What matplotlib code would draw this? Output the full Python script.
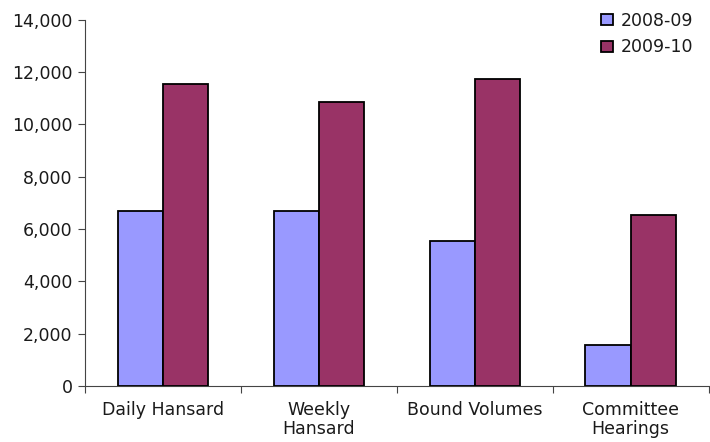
import numpy as np
import matplotlib.pyplot as plt
from matplotlib.ticker import FuncFormatter

categories = ["Daily Hansard", "Weekly\nHansard", "Bound Volumes", "Committee\nHearings"]
series_names = ["2008-09", "2009-10"]
values_0809 = [6700, 6700, 5550, 1570]
values_0910 = [11550, 10850, 11740, 6530]
colors = ["#9999FF", "#993366"]

text_color = "#1a1a1a"
fig = plt.figure(figsize=(7.1, 4.42), dpi=100)
ax = fig.add_axes([0.12, 0.127, 0.878, 0.828])

x = np.arange(len(categories))
width = 0.29
ax.bar(x - width / 2, values_0809, width, color=colors[0], edgecolor="black",
       linewidth=1.3, label=series_names[0], zorder=3)
ax.bar(x + width / 2, values_0910, width, color=colors[1], edgecolor="black",
       linewidth=1.3, label=series_names[1], zorder=3)

ax.set_xlim(-0.5, len(categories) - 0.5)
ax.set_ylim(0, 14000)
ax.set_yticks(np.arange(0, 14001, 2000))
ax.yaxis.set_major_formatter(FuncFormatter(lambda v, p: f"{int(v):,}"))

# category labels sit between the boundary ticks
ax.set_xticks(np.arange(-0.5, len(categories), 1.0))
ax.set_xticklabels([])
ax.set_xticks(x, minor=True)
ax.set_xticklabels(categories, minor=True, fontsize=12.5, linespacing=1.05,
                   color=text_color)
ax.tick_params(axis="x", which="minor", length=0, pad=11)
ax.tick_params(axis="x", which="major", length=5, width=0.8, color="#444444")
ax.tick_params(axis="y", length=5, width=0.8, color="#444444", labelsize=12.5,
               labelcolor=text_color, pad=4)

for side in ["top", "right"]:
    ax.spines[side].set_visible(False)
for side in ["left", "bottom"]:
    ax.spines[side].set_color("#444444")
    ax.spines[side].set_linewidth(0.8)

leg = ax.legend(loc="upper right", bbox_to_anchor=(1.0, 1.065), frameon=False,
                fontsize=12.5, handlelength=0.65, handleheight=0.65,
                handletextpad=0.45, labelspacing=0.5)
for t in leg.get_texts():
    t.set_color(text_color)

fig.savefig("out.png", dpi=100)
